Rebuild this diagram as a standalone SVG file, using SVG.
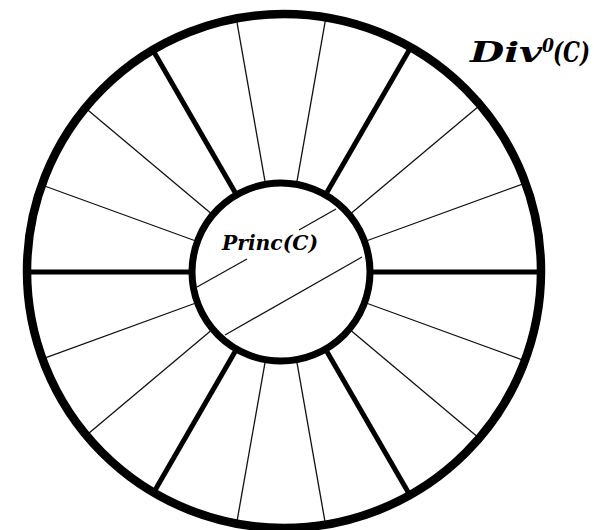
<svg xmlns="http://www.w3.org/2000/svg" width="610" height="530" viewBox="0 0 610 530">
<style>
.ring{fill:none;stroke:#000}
.thick{stroke:#000;stroke-width:5;stroke-linecap:butt}
.thin{stroke:#111;stroke-width:1.3}
.lbl{font-family:"DejaVu Serif","Liberation Serif",serif;font-weight:bold;font-style:italic;fill:#000}
</style>
<rect width="610" height="530" fill="#fff"/>
<g id="connectors">
<line class="thick" x1="189" y1="272" x2="27" y2="272"/>
<line class="thick" x1="373" y1="272" x2="541" y2="272"/>
<line class="thick" x1="327" y1="192.3" x2="410.7" y2="47.4"/>
<line class="thick" x1="235" y1="192.3" x2="152.8" y2="50"/>
<line class="thick" x1="235" y1="351.7" x2="153.7" y2="492.5"/>
<line class="thick" x1="327" y1="351.7" x2="409.8" y2="495.1"/>
<line class="thin" x1="367.5" y1="240.5" x2="525.3" y2="183.1"/>
<line class="thin" x1="351.5" y1="212.9" x2="480.2" y2="104.9"/>
<line class="thin" x1="297" y1="181.4" x2="325.9" y2="17.4"/>
<line class="thin" x1="265" y1="181.4" x2="236.3" y2="18.4"/>
<line class="thin" x1="210.5" y1="212.9" x2="85.4" y2="107.9"/>
<line class="thin" x1="194.5" y1="240.5" x2="41.8" y2="185"/>
<line class="thin" x1="194.5" y1="303.5" x2="42.5" y2="358.8"/>
<line class="thin" x1="210.5" y1="331.1" x2="86.4" y2="435.3"/>
<line class="thin" x1="265" y1="362.6" x2="236.6" y2="523.6"/>
<line class="thin" x1="297" y1="362.6" x2="325.5" y2="524.6"/>
<line class="thin" x1="351.5" y1="331.1" x2="479.2" y2="438.3"/>
<line class="thin" x1="367.5" y1="303.5" x2="524.9" y2="360.8"/>
<line class="thin" x1="197" y1="287" x2="247" y2="259"/>
<line class="thin" x1="299" y1="230" x2="336" y2="209"/>
<line class="thin" x1="362" y1="257" x2="225" y2="335"/>
</g>
<g id="div0">
<circle class="ring" cx="284" cy="271" r="257" stroke-width="8.5"/>
<text class="lbl" font-size="27"><tspan x="470" y="62" textLength="72" lengthAdjust="spacingAndGlyphs">Div</tspan><tspan x="542" y="52" font-size="18" textLength="12" lengthAdjust="spacingAndGlyphs">0</tspan><tspan x="553" y="62" textLength="37" lengthAdjust="spacingAndGlyphs">(C)</tspan></text>
</g>
<g id="princ">
<circle class="ring" cx="281" cy="272" r="89" stroke-width="7"/>
<text class="lbl" x="222" y="250" font-size="21" textLength="96" lengthAdjust="spacingAndGlyphs">Princ(C)</text>
</g>
</svg>
